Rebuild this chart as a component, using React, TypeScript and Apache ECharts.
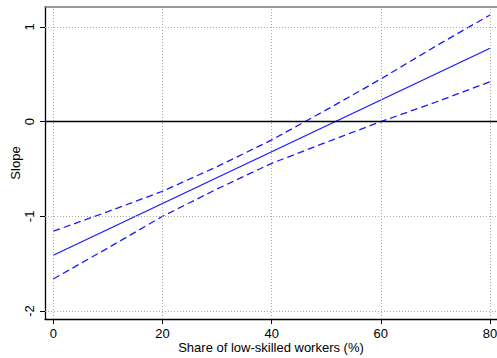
import React, { useEffect, useRef } from "react";
import * as echarts from "echarts";

const xTicks = [0, 20, 40, 60, 80];
const yTicks = [-2, -1, 0, 1];
const fitX = [0, 80];
const fitY = [-1.411, 0.775];
const ciX = [0, 10, 20, 30, 40, 50, 60, 70, 80];
const upperY = [-1.157, -0.95, -0.735, -0.475, -0.193, 0.124, 0.451, 0.796, 1.127];
const lowerY = [-1.661, -1.334, -1.0, -0.711, -0.44, -0.218, 0.0, 0.205, 0.422];

const FONT = "Liberation Sans";
const BLUE = "#1a1aff";

export default function App() {
  const ref = useRef<HTMLDivElement>(null);
  useEffect(() => {
    if (!ref.current) return;
    const chart = echarts.init(ref.current, undefined, { renderer: "svg" });
    const pairs = (xs: number[], ys: number[]) => xs.map((x, i) => [x, ys[i]]);
    const gridData = [
      ...xTicks.map((v) => ({ xAxis: v })),
      ...yTicks.filter((v) => v !== 0).map((v) => ({ yAxis: v })),
    ];
    chart.setOption({
      animation: false,
      backgroundColor: "#ffffff",
      grid: { left: 45, right: 0, top: 7, bottom: 39, containLabel: false, outerBoundsMode: "none" },
      xAxis: [
        {
          type: "value",
          min: -1.52,
          max: 81.28,
          name: "Share of low-skilled workers (%)",
          nameLocation: "middle",
          nameGap: 22,
          nameMoveOverlap: false,
          nameTextStyle: { fontFamily: FONT, fontSize: 13, color: "#000" },
          axisLine: { show: true, onZero: false, lineStyle: { color: "#000", width: 1.3 } },
          axisTick: { show: true, length: 5, customValues: xTicks, lineStyle: { color: "#000", width: 1 } },
          axisLabel: { customValues: xTicks, fontFamily: FONT, fontSize: 13, color: "#000", margin: 8 },
          splitLine: { show: false },
        },
        {
          type: "value",
          position: "top",
          min: -1.52,
          max: 81.28,
          axisLine: { show: true, onZero: false, lineStyle: { color: "#777", width: 1.5 } },
          axisTick: { show: false },
          axisLabel: { show: false },
          splitLine: { show: false },
        },
      ],
      yAxis: {
        type: "value",
        min: -2.084,
        max: 1.211,
        name: "Slope",
        nameLocation: "middle",
        nameGap: 23,
        nameMoveOverlap: false,
        nameRotate: 90,
        nameTextStyle: { fontFamily: FONT, fontSize: 13, color: "#000" },
        axisLine: { show: true, onZero: false, lineStyle: { color: "#000", width: 1.3 } },
        axisTick: { show: true, length: 5, customValues: yTicks, lineStyle: { color: "#000", width: 1 } },
        axisLabel: { customValues: yTicks, rotate: 90, fontFamily: FONT, fontSize: 13, color: "#000", margin: 9 },
        splitLine: { show: false },
      },
      series: [
        {
          type: "line",
          data: [],
          symbol: "none",
          markLine: {
            silent: true,
            symbol: "none",
            label: { show: false },
            lineStyle: { color: "#a8a8a8", type: [1, 2], width: 1 },
            data: gridData,
          },
          z: 1,
        },
        {
          type: "line",
          data: pairs(fitX, fitY),
          symbol: "none",
          lineStyle: { color: BLUE, width: 1.3 },
          markLine: {
            silent: true,
            symbol: "none",
            label: { show: false },
            lineStyle: { color: "#000", type: "solid", width: 1.3 },
            data: [{ yAxis: 0 }],
          },
          z: 3,
        },
        {
          type: "line",
          data: pairs(ciX, upperY),
          symbol: "none",
          lineStyle: { color: BLUE, width: 1.3, type: [7, 4] },
          z: 3,
        },
        {
          type: "line",
          data: pairs(ciX, lowerY),
          symbol: "none",
          lineStyle: { color: BLUE, width: 1.3, type: [7, 4] },
          z: 3,
        },
      ],
    });
    return () => chart.dispose();
  }, []);
  return (
    <div
      ref={ref}
      style={{ position: "fixed", left: 0, top: 0, width: 497, height: 358, background: "#fff" }}
    />
  );
}
